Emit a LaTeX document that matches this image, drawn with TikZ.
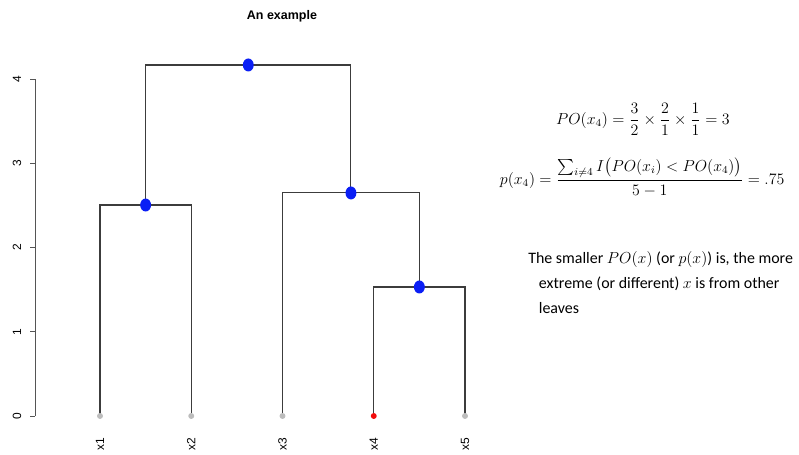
\documentclass[tikz,border=0pt]{standalone}
\usepackage{amsmath,amssymb}
\usepackage{fontspec}
\setmainfont{Carlito}
\newfontfamily\plotfont{Liberation Sans}
\usepackage{tikz}
\usetikzlibrary{shapes.geometric,positioning,calc}
\definecolor{cBranch}{HTML}{3C3C3C}
\definecolor{cAxis}{HTML}{555555}
\definecolor{cLeaf}{HTML}{BDBDBD}
\definecolor{cOut}{HTML}{F20D0D}
\definecolor{cMerge}{HTML}{0A1EF5}
\tikzset{
  branch/.style = {draw=cBranch, line width=0.8pt},
  axline/.style = {draw=cAxis, line width=0.6pt},
  leaf/.style   = {circle, fill=cLeaf, inner sep=0pt, minimum size=4.5pt},
  outl/.style   = {leaf, fill=cOut},
  merge/.style  = {ellipse, fill=cMerge, inner sep=0pt, minimum width=8.2pt, minimum height=9.8pt},
  axlab/.style  = {font=\plotfont\fontsize{9}{10}\selectfont, rotate=90, inner sep=0pt},
  eq/.style     = {font=\fontsize{12}{14}\selectfont, inner sep=0pt},
  note/.style   = {font=\fontsize{12}{18.75}\selectfont, align=left, inner sep=0pt},
}

\begin{document}
\begin{tikzpicture}
  \useasboundingbox (0,0) rectangle (21.14,12.038);
  \node[font=\plotfont\bfseries\fontsize{9.4}{11}\selectfont] (title) at (7.461,11.615) {An example};

  \begin{scope}[shift={(0.2315,1.032)}, x=2.4143cm, y=2.2291cm]
    % leaves and merge points
    \coordinate (x1) at (1,0);
    \coordinate (x2) at (2,0);
    \coordinate (x3) at (3,0);
    \coordinate (x4) at (4,0);
    \coordinate (x5) at (5,0);
    \coordinate (m12) at (1.5,2.504);
    \coordinate (m45) at (4.5,1.531);
    \coordinate (m345) at (3.75,2.647);
    \coordinate (mtop) at (2.625,4.166);

    % axis
    \coordinate (ax0) at (0.288,0);
    \coordinate (ax4) at (0.288,4);
    \draw[axline] (ax0) -- (ax4);
    \foreach \h in {0,...,4} {
      \draw[axline] (0.288,\h) -- (0.233,\h);
      \node[axlab] (y\h) at (0.090,\h) {\h};
    }

    % branches
    \draw[branch] (x1) |- (m12) -| (x2);
    \draw[branch] (x4) |- (m45) -| (x5);
    \draw[branch] (x3) |- (m345) -| (m45);
    \draw[branch] (m12) |- (mtop) -| (m345);

    \node[leaf] (d1) at (x1) {};
    \node[leaf] (d2) at (x2) {};
    \node[leaf] (d3) at (x3) {};
    \node[outl] (d4) at (x4) {};
    \node[leaf] (d5) at (x5) {};
    \node[merge] (n12) at (m12) {};
    \node[merge] (n45) at (m45) {};
    \node[merge] (n345) at (m345) {};
    \node[merge] (ntop) at (mtop) {};

    \foreach \i in {1,...,5}
      \node[axlab, anchor=east] (lab\i) at (\i,-0.26) {x\i};
  \end{scope}

  \node[eq] (po) at (17.01,8.889) {$PO(x_4)=\dfrac{3}{2}\times\dfrac{2}{1}\times\dfrac{1}{1}=3$};
  \node[eq] (px) at (16.99,7.355) {$p(x_4)=\dfrac{\sum_{i\neq 4} I\big(PO(x_i)<PO(x_4)\big)}{5-1}=.75$};

  \node[note, anchor=north west] (txt) at (13.97,5.397)
    {The smaller $PO(x)$ (or $p(x)$) is, the more\\
     \hspace*{8pt}extreme (or different) $x$ is from other\\
     \hspace*{8pt}leaves};
\end{tikzpicture}
\end{document}
